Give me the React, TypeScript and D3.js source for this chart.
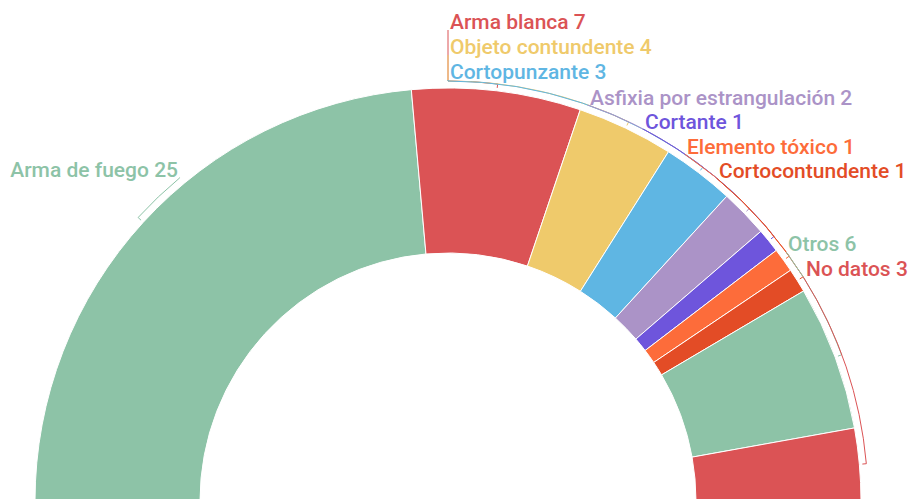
import React, { useEffect, useRef } from 'react';
import * as d3 from 'd3';

const categories = [
  'Arma de fuego', 'Arma blanca', 'Objeto contundente', 'Cortopunzante',
  'Asfixia por estrangulación', 'Cortante', 'Elemento tóxico',
  'Cortocontundente', 'Otros', 'No datos',
];
const values = [25, 7, 4, 3, 2, 1, 1, 1, 6, 3];
const colors = [
  '#8dc3a7', '#db5355', '#efca6b', '#5fb6e3', '#ab93c7',
  '#6e55dc', '#fd6c3a', '#e34c26', '#8dc3a7', '#db5355',
];

// label layout: text position, where the leader line meets the label
const labelPos = [
  { x: 178, y: 177, anchor: 'end', joinX: 180, joinY: 178 },
  { x: 450, y: 29, anchor: 'start', joinX: 448, joinY: 30 },
  { x: 450, y: 54, anchor: 'start', joinX: 448, joinY: 55 },
  { x: 450, y: 79, anchor: 'start', joinX: 448, joinY: 80 },
  { x: 590, y: 105, anchor: 'start', joinX: 588, joinY: 106 },
  { x: 645, y: 129, anchor: 'start', joinX: 643, joinY: 130 },
  { x: 687, y: 154, anchor: 'start', joinX: 685, joinY: 155 },
  { x: 719, y: 178, anchor: 'start', joinX: 717, joinY: 179 },
  { x: 788, y: 251, anchor: 'start', joinX: 786, joinY: 253 },
  { x: 806, y: 276, anchor: 'start', joinX: 803, joinY: 278 },
];

const W = 909;
const H = 499;
const cx = 448;
const cy = 501;
const outerR = 413;
const innerR = 248;
const bracketR = outerR + 7;

export default function App() {
  const svgRef = useRef<SVGSVGElement>(null);

  useEffect(() => {
    const svg = d3.select(svgRef.current);
    svg.selectAll('*').remove();

    const data = categories.map((c, i) => ({ name: c, value: values[i], color: colors[i], i }));
    const pie = d3.pie<any>().value(d => d.value).sort(null)
      .startAngle(-Math.PI / 2).endAngle(Math.PI / 2);
    const arcs = pie(data);
    const arc = d3.arc<any>().innerRadius(innerR).outerRadius(outerR);

    const g = svg.append('g').attr('transform', `translate(${cx},${cy})`);

    g.selectAll('path.slice')
      .data(arcs)
      .enter()
      .append('path')
      .attr('class', 'slice')
      .attr('d', arc)
      .attr('fill', d => d.data.color)
      .attr('stroke', '#fff')
      .attr('stroke-width', 1);

    // leader lines: tick at slice middle, run along arc to anchor, then to label
    const pt = (a: number, r: number) => [r * Math.sin(a), -r * Math.cos(a)];
    arcs.forEach((d, i) => {
      const lp = labelPos[i];
      const mid = (d.startAngle + d.endAngle) / 2;
      const jx = lp.joinX - cx;
      const jy = lp.joinY - cy;
      let anchorA = Math.atan2(jx, -jy);
      if (i >= 1 && i <= 3) anchorA = 0;
      const path = d3.path();
      const t0 = pt(mid, outerR + 3);
      const t1 = pt(mid, bracketR);
      path.moveTo(t0[0], t0[1]);
      path.lineTo(t1[0], t1[1]);
      // d3 path arc angles measured from x-axis
      const a0 = mid - Math.PI / 2;
      const a1 = anchorA - Math.PI / 2;
      path.arc(0, 0, bracketR, a0, a1, a1 < a0);
      path.lineTo(jx, jy);
      g.append('path')
        .attr('d', path.toString())
        .attr('fill', 'none')
        .attr('stroke', d.data.color)
        .attr('stroke-width', 1);
    });

    svg.selectAll('text.lbl')
      .data(arcs)
      .enter()
      .append('text')
      .attr('class', 'lbl')
      .attr('x', (d, i) => labelPos[i].x)
      .attr('y', (d, i) => labelPos[i].y)
      .attr('text-anchor', (d, i) => labelPos[i].anchor)
      .attr('fill', d => d.data.color)
      .style('font-family', 'Roboto, sans-serif')
      .style('font-weight', 500)
      .style('font-size', '21px')
      .text(d => `${d.data.name} ${d.data.value}`);
  }, []);

  return (
    <svg
      ref={svgRef}
      width={W}
      height={H}
      style={{ position: 'absolute', left: 0, top: 0, display: 'block', background: '#fff' }}
    />
  );
}
